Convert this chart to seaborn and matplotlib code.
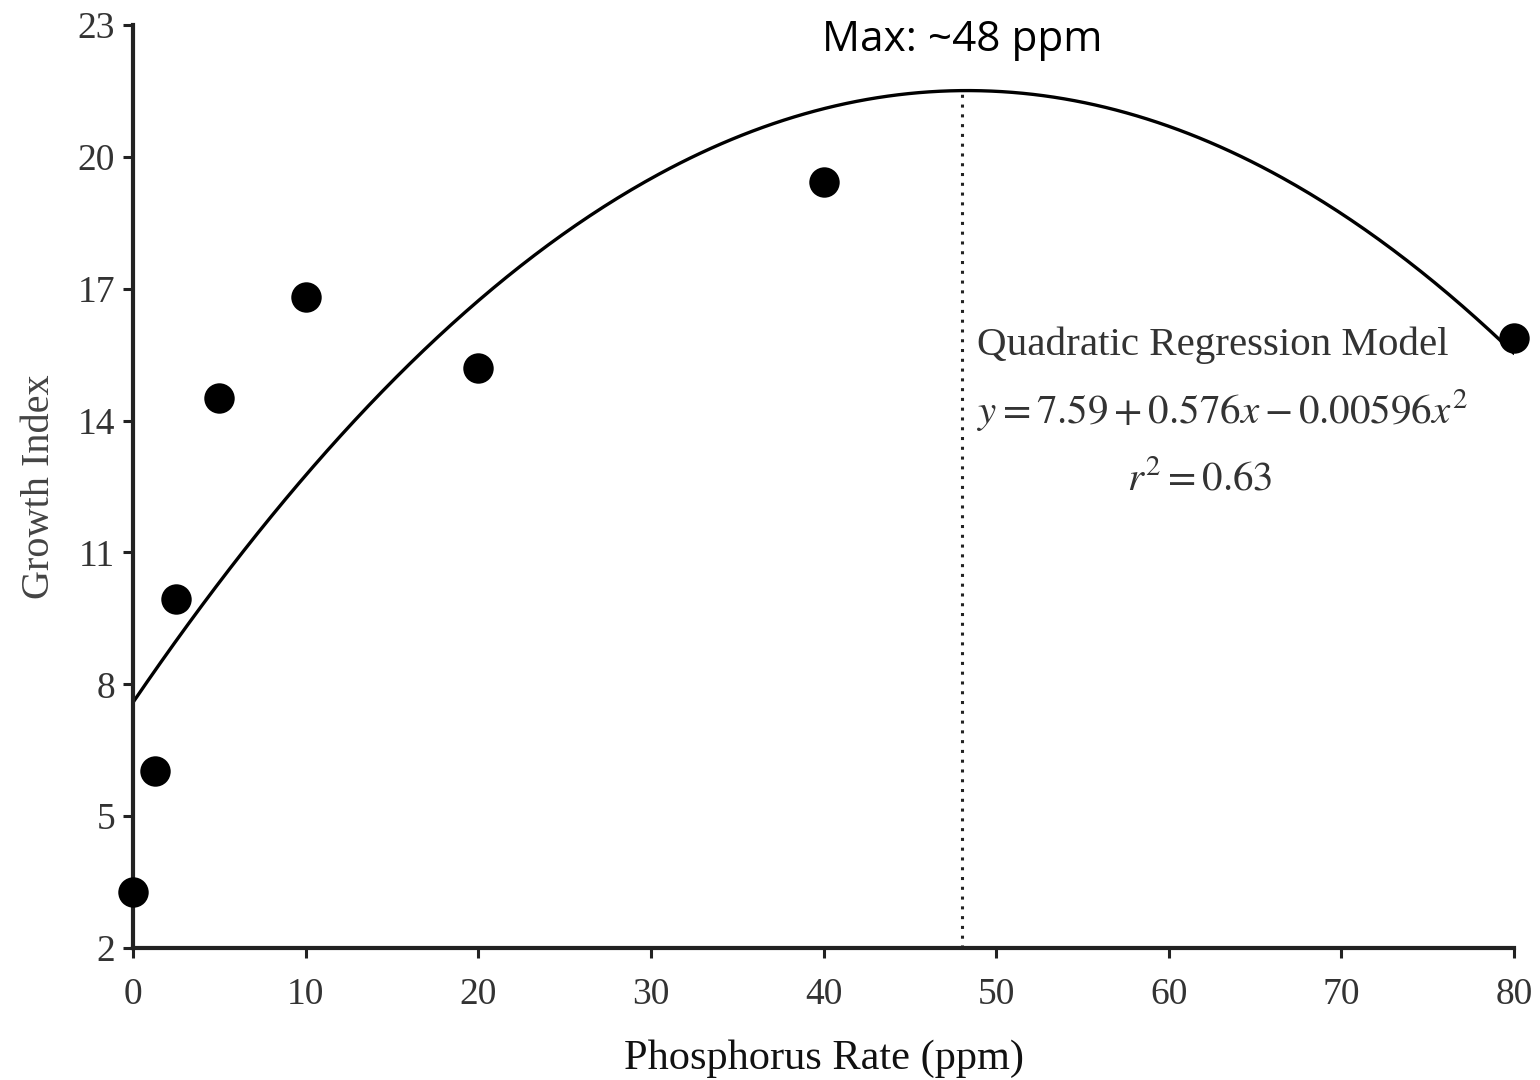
import numpy as np
import pandas as pd
import matplotlib
matplotlib.use("Agg")
import matplotlib.pyplot as plt
import seaborn as sns

# ---- data ----
phosphorus = [0, 1.25, 2.5, 5, 10, 20, 40, 80]
growth = [3.27, 6.03, 9.94, 14.51, 16.81, 15.20, 19.43, 15.88]

# printed regression model coefficients (y = b0 + b1 x + b2 x^2)
b0, b1, b2 = 7.59, 0.576, -0.00596
r2 = 0.63
x_max = 48

x_ticks = [0, 10, 20, 30, 40, 50, 60, 70, 80]
y_ticks = [2, 5, 8, 11, 14, 17, 20, 23]

sns.set_theme(style="ticks")
plt.rcParams["font.family"] = ["Liberation Serif", "DejaVu Serif"]
plt.rcParams["mathtext.fontset"] = "stix"

fig = plt.figure(figsize=(15.4, 10.8), dpi=100)
ax = fig.add_axes([0.0864, 0.1222, 0.8968, 0.8547])

xs = np.linspace(0, 80, 400)
curve = pd.DataFrame({"x": xs, "y": b0 + b1 * xs + b2 * xs ** 2})
sns.lineplot(data=curve, x="x", y="y", color="black", linewidth=2.4, ax=ax)

pts = pd.DataFrame({"P": phosphorus, "G": growth})
sns.scatterplot(data=pts, x="P", y="G", color="black", s=480, edgecolor="black",
                linewidth=0, ax=ax, clip_on=False, zorder=5)

ymax_curve = b0 + b1 * x_max + b2 * x_max ** 2
ax.plot([x_max, x_max], [2, ymax_curve], color="#222222", linewidth=2.2,
        linestyle=(0, (1, 2.2)))

ax.set_xlim(0, 80)
ax.set_ylim(2, 23)
ax.set_xticks(x_ticks)
ax.set_yticks(y_ticks)
ax.tick_params(axis="both", labelsize=27, colors="#333333", length=7, width=2.2,
               direction="out")
ax.tick_params(axis="x", pad=14)
ax.tick_params(axis="y", pad=6)
ax.tick_params(axis="both", color="#222222")
for s in ["top", "right"]:
    ax.spines[s].set_visible(False)
for s in ["left", "bottom"]:
    ax.spines[s].set_linewidth(3)
    ax.spines[s].set_color("#222222")

ax.set_xlabel("Phosphorus Rate (ppm)", fontsize=30.5, color="#111111", labelpad=20)
ax.set_ylabel("Growth Index", fontsize=29, color="#444444", labelpad=14)

ax.text(48.9, 15.72, "Quadratic Regression Model", fontsize=29.5, color="#333333",
        ha="left", va="center")
ax.text(48.9, 14.24, r"$y = 7.59 + 0.576x - 0.00596x^2$", fontsize=29.5,
        color="#333333", ha="left", va="center")
ax.text(61.8, 12.65, r"$r^2 = 0.63$", fontsize=29.5, color="#333333",
        ha="center", va="center")

ax.text(x_max, 22.66, "Max: ~48 ppm", fontsize=30.4, family=["Open Sans", "DejaVu Sans"],
        color="black", ha="center", va="center", clip_on=False)

fig.savefig("out.png", dpi=100)
